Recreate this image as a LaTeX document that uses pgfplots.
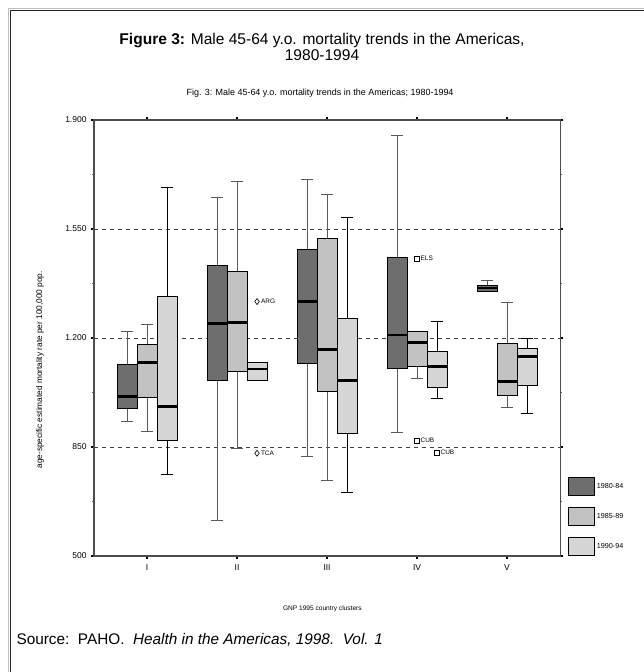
\documentclass[border=0pt]{standalone}
\usepackage{fontspec}
\setmainfont{Liberation Sans}
\usepackage{pgfplots}
\pgfplotsset{compat=1.18}
\usepgfplotslibrary{statistics}
\definecolor{c1}{HTML}{6E6E6E}
\definecolor{c2}{HTML}{C2C2C2}
\definecolor{c3}{HTML}{D6D6D6}
\definecolor{wg}{HTML}{5A5A5A}

% pos, lower whisker, lower quartile, median, upper quartile, upper whisker, fill, whisker colour
\newcommand{\bp}[8]{%
  \addplot[forget plot, boxplot prepared={draw position=#1, lower whisker=#2,
    lower quartile=#3, median=#4, upper quartile=#5, upper whisker=#6,
    box extend=0.222, whisker extend=0.133,
    every box/.style={draw=black, fill=#7, line width=0.8bp},
    every whisker/.style={draw=#8, line width=0.9bp},
    every median/.style={draw=black, line width=2.6bp}}] coordinates {};}

\begin{document}
\begin{tikzpicture}
\useasboundingbox (0,0) rectangle (644bp,-672bp);
\fill[white] (0,0) rectangle (644bp,-672bp);
\draw[black!25, line width=1bp] (8.5bp,-672bp) -- (8.5bp,-8.5bp) -- (644bp,-8.5bp);
\draw[black!85, line width=1.2bp] (10.5bp,-672bp) -- (10.5bp,-10.2bp) -- (644bp,-10.2bp);
\node[font=\fontsize{15.6}{15.5}\selectfont, align=center] at (322bp,-47bp)
  {\textbf{Figure 3:} Male 45-64 y.o. mortality trends in the Americas,\\1980-1994};
\node[font=\fontsize{15.4}{16}\selectfont, anchor=west] at (13bp,-640bp)
  {Source:\ \ PAHO.\ \ \textit{Health in the Americas, 1998.\ \ Vol. 1}};

\begin{axis}[
    at={(94bp,-556bp)}, anchor=south west,
    scale only axis, width=466bp, height=436bp,
    xmin=0.41, xmax=5.59, ymin=500, ymax=1900,
    boxplot/draw direction=y,
    xtick={1,2,3,4,5}, xticklabels={I,II,III,IV,V},
    ytick={500,850,1200,1550,1900},
    minor ytick={675,1025,1375,1725},
    axis line style={draw=black!70, line width=1.1bp},
    tick align=outside,
    major tick length=3bp, minor tick length=2bp,
    every major tick/.style={black, line width=2bp},
    every minor tick/.style={black!60, line width=0.6bp},
    ymajorgrids,
    y grid style={black!75, dash pattern=on 4bp off 4bp, line width=0.8bp},
    tick label style={font=\fontsize{8.5}{9}\selectfont},
    yticklabel style={xshift=-1bp},
    xticklabel style={yshift=-2bp},
    /pgf/number format/assume math mode=true,
    /pgf/number format/1000 sep={.},
    title={Fig. 3: Male 45-64 y.o. mortality trends in the Americas; 1980-1994},
    title style={at={(axis description cs:0.485,1.047)}, anchor=center,
      font=\fontsize{9}{10}\selectfont},
    xlabel={GNP 1995 country clusters},
    every axis x label/.style={at={(axis description cs:0.49,-0.1216)}, anchor=center,
      font=\fontsize{6.6}{7}\selectfont},
    ylabel={age-specific estimated mortality rate per 100,000 pop.},
    every axis y label/.style={at={(axis description cs:-0.116,0.427)}, rotate=90,
      anchor=center, font=\fontsize{8.3}{9}\selectfont},
    legend image code/.code={\draw[#1, draw=black, line width=0.8bp] (0bp,-9bp) rectangle (26bp,9bp);},
    legend style={at={(axis description cs:1.017,0)}, anchor=south west,
      draw=none, fill=none, inner sep=0pt, row sep=11bp,
      font=\fontsize{7.2}{8}\selectfont},
    legend cell align=left,
]
% cluster I
\bp{0.778}{931}{974}{1013}{1115}{1221}{c1}{wg}
\bp{1.000}{899}{1010}{1121}{1180}{1243}{c2}{wg}
\bp{1.222}{762}{871}{981}{1332}{1682}{c3}{black}
% cluster II
\bp{1.778}{613}{1065}{1247}{1434}{1650}{c1}{wg}
\bp{2.000}{845}{1092}{1250}{1413}{1703}{c2}{wg}
\addplot[forget plot, mark=diamond, mark size=3bp,
  mark options={draw=black, fill=white, line width=0.6bp},
  boxplot prepared={draw position=2.222, lower whisker=1063,
    lower quartile=1063, median=1100, upper quartile=1121, upper whisker=1121,
    box extend=0.222, whisker extend=0.133,
    every box/.style={draw=black, fill=c3, line width=0.8bp},
    every whisker/.style={draw=black, line width=0.9bp},
    every median/.style={draw=black, line width=2.6bp}}]
  table[row sep=\\, y index=0] {data\\ 1317\\ 830\\};
% cluster III
\bp{2.778}{819}{1119}{1317}{1486}{1710}{c1}{wg}
\bp{3.000}{744}{1027}{1164}{1519}{1660}{c2}{wg}
\bp{3.222}{703}{893}{1063}{1263}{1588}{c3}{black}
% cluster IV
\bp{3.778}{896}{1101}{1210}{1458}{1849}{c1}{wg}
\addplot[forget plot, mark=square, mark size=2.6bp,
  mark options={draw=black, fill=white, line width=0.6bp},
  boxplot prepared={draw position=4.000, lower whisker=1069,
    lower quartile=1109, median=1186, upper quartile=1221, upper whisker=1221,
    box extend=0.222, whisker extend=0.133,
    every box/.style={draw=black, fill=c2, line width=0.8bp},
    every whisker/.style={draw=wg, line width=0.9bp},
    every median/.style={draw=black, line width=2.6bp}}]
  table[row sep=\\, y index=0] {data\\ 1455\\ 871\\};
\addplot[forget plot, mark=square, mark size=2.6bp,
  mark options={draw=black, fill=white, line width=0.6bp},
  boxplot prepared={draw position=4.222, lower whisker=1006,
    lower quartile=1040, median=1108, upper quartile=1157, upper whisker=1252,
    box extend=0.222, whisker extend=0.133,
    every box/.style={draw=black, fill=c3, line width=0.8bp},
    every whisker/.style={draw=black, line width=0.9bp},
    every median/.style={draw=black, line width=2.6bp}}]
  table[row sep=\\, y index=0] {data\\ 832\\};
% cluster V
\bp{4.778}{1351}{1351}{1360}{1370}{1384}{c1}{wg}
\bp{5.000}{977}{1016}{1060}{1183}{1313}{c2}{wg}
\bp{5.222}{959}{1048}{1140}{1167}{1197}{c3}{black}

\addlegendimage{fill=c1}\addlegendentry{1980-84}
\addlegendimage{fill=c2}\addlegendentry{1985-89}
\addlegendimage{fill=c3}\addlegendentry{1990-94}

\begin{scope}[every node/.style={font=\fontsize{6.5}{7}\selectfont, anchor=west, inner sep=0pt}]
\node at (axis cs:2.222,1317) [xshift=3.8bp] {ARG};
\node at (axis cs:2.222,830) [xshift=3.8bp] {TCA};
\node at (axis cs:4.000,1455) [xshift=3.4bp] {ELS};
\node at (axis cs:4.000,871) [xshift=3.4bp] {CUB};
\node at (axis cs:4.222,832) [xshift=3.4bp] {CUB};
\end{scope}
\end{axis}
\end{tikzpicture}
\end{document}
